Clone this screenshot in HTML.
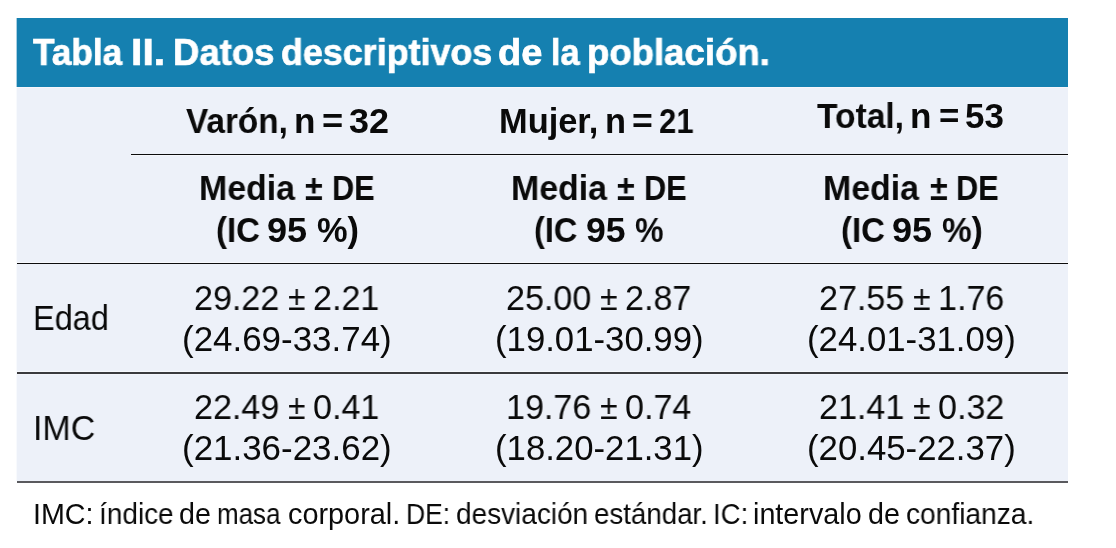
<!DOCTYPE html>
<html lang="es">
<head>
<meta charset="utf-8">
<title>Tabla II. Datos descriptivos de la población</title>
<style>
html,body{margin:0;padding:0;background:#fff;}
body{width:1116px;height:548px;position:relative;overflow:hidden;font-family:"Liberation Sans",sans-serif;}
.banner{position:absolute;left:17px;top:18px;width:1051px;height:69px;background:#1580b0;}
.panel{position:absolute;left:17px;top:88px;width:1051px;height:393px;background:#edf1f9;}
.ln{position:absolute;height:1px;background:#0c0c0c;}
.t{position:absolute;white-space:pre;line-height:1;transform-origin:0 0;will-change:transform;}
</style>
</head>
<body>
<div class="banner"></div>
<div class="ln" style="left:16px;top:18px;width:1px;height:69px;background:#a9d0e3;"></div>
<div class="ln" style="left:16px;top:88px;width:1px;height:393px;background:#f8fafd;"></div>
<div class="panel"></div>
<div class="ln" style="left:17px;top:87px;width:1051px;background:#f7f6fb;"></div>
<div class="ln" style="left:131px;top:155px;width:937px;background:#f6f8fc;"></div>
<div class="ln" style="left:17px;top:262px;width:1051px;background:#f8f9fd;"></div>
<div class="ln" style="left:17px;top:371px;width:1051px;background:#f6f8fc;"></div>
<div class="ln" style="left:17px;top:374px;width:1051px;background:#f3f5fb;"></div>
<div class="ln" style="left:131px;top:154px;width:937px;"></div>
<div class="ln" style="left:17px;top:263px;width:1051px;"></div>
<div class="ln" style="left:17px;top:372px;width:1051px;height:2px;background:#3a3a3d;"></div>
<div class="ln" style="left:17px;top:481px;width:1051px;height:2px;background:#5a5a5e;"></div>
<div class="t" style="left:33.30px;top:35px;font-size:36.90px;font-weight:bold;-webkit-text-stroke:0.70px #ffffff;color:#ffffff;transform:scaleX(0.9533);">Tabla</div>
<div class="t" style="left:131.29px;top:35px;font-size:36.90px;font-weight:bold;-webkit-text-stroke:0.70px #ffffff;color:#ffffff;transform:scaleX(1.1099);">II.</div>
<div class="t" style="left:172.96px;top:35px;font-size:36.90px;font-weight:bold;-webkit-text-stroke:0.70px #ffffff;color:#ffffff;transform:scaleX(0.9892);">Datos</div>
<div class="t" style="left:280.92px;top:35px;font-size:36.90px;font-weight:bold;-webkit-text-stroke:0.70px #ffffff;color:#ffffff;transform:scaleX(0.9722);">descriptivos</div>
<div class="t" style="left:497.63px;top:35px;font-size:36.90px;font-weight:bold;-webkit-text-stroke:0.70px #ffffff;color:#ffffff;transform:scaleX(1.0315);">de</div>
<div class="t" style="left:550.90px;top:35px;font-size:36.90px;font-weight:bold;-webkit-text-stroke:0.70px #ffffff;color:#ffffff;transform:scaleX(0.9253);">la</div>
<div class="t" style="left:587.16px;top:35px;font-size:36.90px;font-weight:bold;-webkit-text-stroke:0.70px #ffffff;color:#ffffff;transform:scaleX(0.9912);">población.</div>
<div class="t" style="left:186.10px;top:104px;font-size:34.40px;font-weight:bold;color:#0a0a0a;transform:scaleX(0.9694);">Varón,</div>
<div class="t" style="left:293.69px;top:104px;font-size:34.40px;font-weight:bold;color:#0a0a0a;transform:scaleX(1.0204);">n</div>
<div class="t" style="left:321.65px;top:104px;font-size:34.40px;font-weight:bold;color:#0a0a0a;transform:scaleX(1.0545);">=</div>
<div class="t" style="left:348.88px;top:104px;font-size:34.40px;font-weight:bold;color:#0a0a0a;transform:scaleX(1.0459);">32</div>
<div class="t" style="left:498.84px;top:104px;font-size:34.40px;font-weight:bold;color:#0a0a0a;transform:scaleX(0.9984);">Mujer,</div>
<div class="t" style="left:604.84px;top:104px;font-size:34.40px;font-weight:bold;color:#0a0a0a;transform:scaleX(0.9967);">n</div>
<div class="t" style="left:632.37px;top:104px;font-size:34.40px;font-weight:bold;color:#0a0a0a;transform:scaleX(1.0374);">=</div>
<div class="t" style="left:659.47px;top:104px;font-size:34.40px;font-weight:bold;color:#0a0a0a;transform:scaleX(0.9028);">21</div>
<div class="t" style="left:817.16px;top:99px;font-size:34.40px;font-weight:bold;color:#0a0a0a;transform:scaleX(0.9765);">Total,</div>
<div class="t" style="left:910.49px;top:99px;font-size:34.40px;font-weight:bold;color:#0a0a0a;transform:scaleX(1.0204);">n</div>
<div class="t" style="left:938.50px;top:99px;font-size:34.40px;font-weight:bold;color:#0a0a0a;transform:scaleX(1.0146);">=</div>
<div class="t" style="left:965.25px;top:99px;font-size:34.40px;font-weight:bold;color:#0a0a0a;transform:scaleX(1.0170);">53</div>
<div class="t" style="left:198.72px;top:171px;font-size:34.40px;font-weight:bold;color:#0a0a0a;transform:scaleX(0.9849);">Media</div>
<div class="t" style="left:305.26px;top:171px;font-size:34.40px;font-weight:bold;color:#0a0a0a;transform:scaleX(0.9348);">±</div>
<div class="t" style="left:331.55px;top:171px;font-size:34.40px;font-weight:bold;color:#0a0a0a;transform:scaleX(0.8954);">DE</div>
<div class="t" style="left:510.72px;top:171px;font-size:34.40px;font-weight:bold;color:#0a0a0a;transform:scaleX(0.9849);">Media</div>
<div class="t" style="left:617.26px;top:171px;font-size:34.40px;font-weight:bold;color:#0a0a0a;transform:scaleX(0.9348);">±</div>
<div class="t" style="left:643.55px;top:171px;font-size:34.40px;font-weight:bold;color:#0a0a0a;transform:scaleX(0.8954);">DE</div>
<div class="t" style="left:823.42px;top:171px;font-size:34.40px;font-weight:bold;color:#0a0a0a;transform:scaleX(0.9849);">Media</div>
<div class="t" style="left:929.96px;top:171px;font-size:34.40px;font-weight:bold;color:#0a0a0a;transform:scaleX(0.9348);">±</div>
<div class="t" style="left:956.25px;top:171px;font-size:34.40px;font-weight:bold;color:#0a0a0a;transform:scaleX(0.8954);">DE</div>
<div class="t" style="left:215.98px;top:213px;font-size:34.40px;font-weight:bold;color:#0a0a0a;transform:scaleX(0.9584);">(IC</div>
<div class="t" style="left:267.42px;top:213px;font-size:34.40px;font-weight:bold;color:#0a0a0a;transform:scaleX(1.0487);">95</div>
<div class="t" style="left:317.32px;top:213px;font-size:34.40px;font-weight:bold;color:#0a0a0a;transform:scaleX(0.9906);">%)</div>
<div class="t" style="left:534.20px;top:213px;font-size:34.40px;font-weight:bold;color:#0a0a0a;transform:scaleX(0.9447);">(IC</div>
<div class="t" style="left:585.83px;top:213px;font-size:34.40px;font-weight:bold;color:#0a0a0a;transform:scaleX(1.0349);">95</div>
<div class="t" style="left:635.26px;top:213px;font-size:34.40px;font-weight:bold;color:#0a0a0a;transform:scaleX(0.9337);">%</div>
<div class="t" style="left:840.68px;top:213px;font-size:34.40px;font-weight:bold;color:#0a0a0a;transform:scaleX(0.9584);">(IC</div>
<div class="t" style="left:892.12px;top:213px;font-size:34.40px;font-weight:bold;color:#0a0a0a;transform:scaleX(1.0487);">95</div>
<div class="t" style="left:942.03px;top:213px;font-size:34.40px;font-weight:bold;color:#0a0a0a;transform:scaleX(0.9705);">%)</div>
<div class="t" style="left:33.30px;top:301px;font-size:34.40px;color:#0a0a0a;transform:scaleX(0.9437);">Edad</div>
<div class="t" style="left:32.84px;top:411px;font-size:34.40px;color:#0a0a0a;transform:scaleX(0.9872);">IMC</div>
<div class="t" style="left:181.90px;top:322px;font-size:34.40px;color:#0a0a0a;transform:scaleX(1.0156);">(24.69-33.74)</div>
<div class="t" style="left:494.72px;top:322px;font-size:34.40px;color:#0a0a0a;transform:scaleX(1.0101);">(19.01-30.99)</div>
<div class="t" style="left:807.31px;top:322px;font-size:34.40px;color:#0a0a0a;transform:scaleX(1.0111);">(24.01-31.09)</div>
<div class="t" style="left:181.90px;top:431px;font-size:34.40px;color:#0a0a0a;transform:scaleX(1.0156);">(21.36-23.62)</div>
<div class="t" style="left:494.72px;top:431px;font-size:34.40px;color:#0a0a0a;transform:scaleX(1.0101);">(18.20-21.31)</div>
<div class="t" style="left:807.31px;top:431px;font-size:34.40px;color:#0a0a0a;transform:scaleX(1.0111);">(20.45-22.37)</div>
<div class="t" style="left:288.44px;top:281px;font-size:34.40px;color:#0a0a0a;transform:scaleX(0.9255);">±</div>
<div class="t" style="left:599.94px;top:281px;font-size:34.40px;color:#0a0a0a;transform:scaleX(0.9314);">±</div>
<div class="t" style="left:913.14px;top:281px;font-size:34.40px;color:#0a0a0a;transform:scaleX(0.9314);">±</div>
<div class="t" style="left:288.44px;top:390px;font-size:34.40px;color:#0a0a0a;transform:scaleX(0.9255);">±</div>
<div class="t" style="left:599.94px;top:390px;font-size:34.40px;color:#0a0a0a;transform:scaleX(0.9314);">±</div>
<div class="t" style="left:913.14px;top:390px;font-size:34.40px;color:#0a0a0a;transform:scaleX(0.9314);">±</div>
<div class="t" style="left:33.03px;top:500px;font-size:28.70px;color:#0a0a0a;transform:scaleX(0.9932);">IMC:</div>
<div class="t" style="left:98.62px;top:500px;font-size:28.70px;color:#0a0a0a;transform:scaleX(0.9753);">índice</div>
<div class="t" style="left:179.47px;top:500px;font-size:28.70px;color:#0a0a0a;transform:scaleX(0.9853);">de</div>
<div class="t" style="left:217.34px;top:500px;font-size:28.70px;color:#0a0a0a;transform:scaleX(0.9042);">masa</div>
<div class="t" style="left:287.65px;top:500px;font-size:28.70px;color:#0a0a0a;transform:scaleX(1.0056);">corporal.</div>
<div class="t" style="left:405.78px;top:500px;font-size:28.70px;color:#0a0a0a;transform:scaleX(0.9227);">DE:</div>
<div class="t" style="left:455.68px;top:500px;font-size:28.70px;color:#0a0a0a;transform:scaleX(0.9748);">desviación</div>
<div class="t" style="left:593.69px;top:500px;font-size:28.70px;color:#0a0a0a;transform:scaleX(0.9649);">estándar.</div>
<div class="t" style="left:713.12px;top:500px;font-size:28.70px;color:#0a0a0a;transform:scaleX(0.9598);">IC:</div>
<div class="t" style="left:752.98px;top:500px;font-size:28.70px;color:#0a0a0a;transform:scaleX(1.0017);">intervalo</div>
<div class="t" style="left:868.16px;top:500px;font-size:28.70px;color:#0a0a0a;transform:scaleX(0.9954);">de</div>
<div class="t" style="left:905.87px;top:500px;font-size:28.70px;color:#0a0a0a;transform:scaleX(0.9814);">confianza.</div>
<div class="t" style="left:194.10px;top:281px;font-size:34.40px;color:#0a0a0a;transform:scaleX(0.9905);">29.22</div>
<div class="t" style="left:312.80px;top:281px;font-size:34.40px;color:#0a0a0a;transform:scaleX(0.9905);">2.21</div>
<div class="t" style="left:505.80px;top:281px;font-size:34.40px;color:#0a0a0a;transform:scaleX(0.9905);">25.00</div>
<div class="t" style="left:625.00px;top:281px;font-size:34.40px;color:#0a0a0a;transform:scaleX(0.9905);">2.87</div>
<div class="t" style="left:818.80px;top:281px;font-size:34.40px;color:#0a0a0a;transform:scaleX(0.9905);">27.55</div>
<div class="t" style="left:937.82px;top:281px;font-size:34.40px;color:#0a0a0a;transform:scaleX(0.9905);">1.76</div>
<div class="t" style="left:194.10px;top:390px;font-size:34.40px;color:#0a0a0a;transform:scaleX(0.9905);">22.49</div>
<div class="t" style="left:312.80px;top:390px;font-size:34.40px;color:#0a0a0a;transform:scaleX(0.9905);">0.41</div>
<div class="t" style="left:505.80px;top:390px;font-size:34.40px;color:#0a0a0a;transform:scaleX(0.9905);">19.76</div>
<div class="t" style="left:625.00px;top:390px;font-size:34.40px;color:#0a0a0a;transform:scaleX(0.9905);">0.74</div>
<div class="t" style="left:818.80px;top:390px;font-size:34.40px;color:#0a0a0a;transform:scaleX(0.9905);">21.41</div>
<div class="t" style="left:937.82px;top:390px;font-size:34.40px;color:#0a0a0a;transform:scaleX(0.9905);">0.32</div>
</body>
</html>
